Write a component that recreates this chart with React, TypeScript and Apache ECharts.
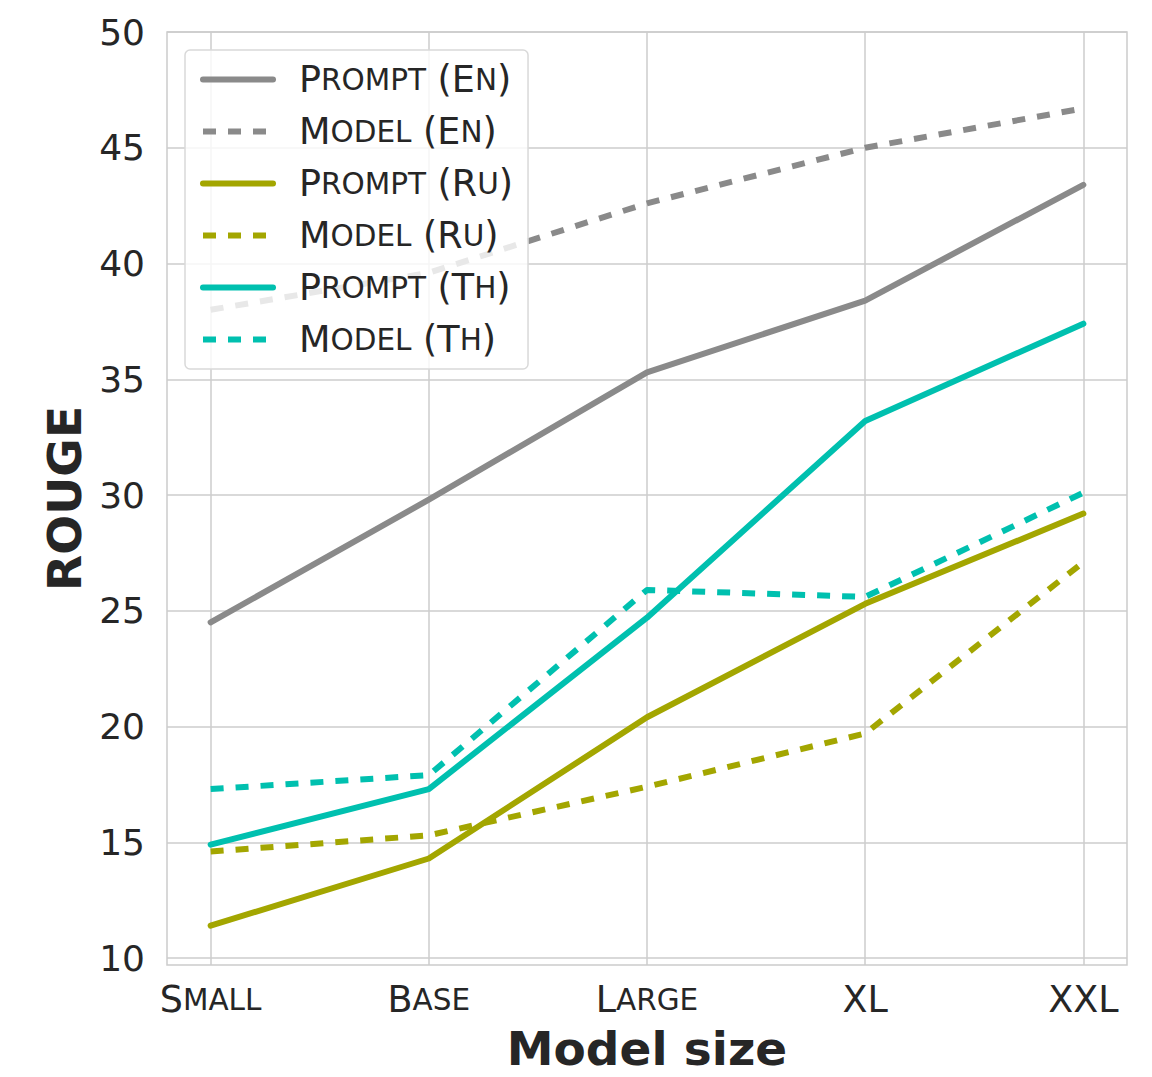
import React, { useEffect, useRef } from "react";
import * as echarts from "echarts";

const categories = ["Small", "Base", "Large", "XL", "XXL"];
const categoryLabels = ["{a|S}{b|MALL}", "{a|B}{b|ASE}", "{a|L}{b|ARGE}", "{a|XL}", "{a|XXL}"];
const yTicks = [10, 15, 20, 25, 30, 35, 40, 45, 50];

const promptEn = [24.5, 29.8, 35.3, 38.4, 43.4];
const modelEn = [38.0, 39.6, 42.6, 45.0, 46.7];
const promptRu = [11.4, 14.3, 20.4, 25.3, 29.2];
const modelRu = [14.6, 15.3, 17.4, 19.7, 27.1];
const promptTh = [14.9, 17.3, 24.7, 33.2, 37.4];
const modelTh = [17.3, 17.9, 25.9, 25.6, 30.1];

const seriesNames = ["Prompt (En)", "Model (En)", "Prompt (Ru)", "Model (Ru)", "Prompt (Th)", "Model (Th)"];
const legendRich: Record<string, string> = {
  "Prompt (En)": "{a|P}{b|ROMPT}{a| (E}{b|N}{a|)}",
  "Model (En)": "{a|M}{b|ODEL}{a| (E}{b|N}{a|)}",
  "Prompt (Ru)": "{a|P}{b|ROMPT}{a| (R}{b|U}{a|)}",
  "Model (Ru)": "{a|M}{b|ODEL}{a| (R}{b|U}{a|)}",
  "Prompt (Th)": "{a|P}{b|ROMPT}{a| (T}{b|H}{a|)}",
  "Model (Th)": "{a|M}{b|ODEL}{a| (T}{b|H}{a|)}",
};
const seriesValues = [promptEn, modelEn, promptRu, modelRu, promptTh, modelTh];
const seriesColors = ["#8a8a8a", "#8a8a8a", "#a3a600", "#a3a600", "#00c0af", "#00c0af"];
const seriesDashed = [false, true, false, true, false, true];

const FONT = "DejaVu Sans";
const TEXT = "#262626";
const GRID = "#cccccc";
const LW = 6;

export default function App() {
  const ref = useRef<HTMLDivElement>(null);
  useEffect(() => {
    if (!ref.current) return;
    const chart = echarts.init(ref.current, undefined, { renderer: "svg" });
    const tickIdx = categories.map((_, i) => i);
    chart.setOption({
      animation: false,
      backgroundColor: "#ffffff",
      textStyle: { fontFamily: FONT },
      grid: {
        left: 167,
        right: 25,
        top: 32,
        bottom: 111,
        show: true,
        borderColor: GRID,
        borderWidth: 1.5,
        backgroundColor: "transparent",
      },
      legend: {
        left: 185,
        top: 50,
        orient: "vertical",
        padding: [11, 15, 11, 15],
        itemWidth: 70,
        itemHeight: 20,
        itemGap: 15,
        backgroundColor: "rgba(255,255,255,0.8)",
        borderColor: "#d9d9d9",
        borderWidth: 1.5,
        borderRadius: 5,
        data: seriesNames,
        lineStyle: { width: LW },
        itemStyle: { opacity: 0 },
        formatter: (name: string) => legendRich[name],
        textStyle: {
          color: TEXT,
          fontFamily: FONT,
          padding: [0, 0, 0, 21],
          rich: {
            a: { fontSize: 36.5, fontFamily: FONT, color: TEXT, lineHeight: 36 },
            b: { fontSize: 29.5, fontFamily: FONT, color: TEXT, lineHeight: 36 },
          },
        },
      },
      xAxis: {
        type: "value",
        min: -0.2,
        max: 4.2,
        name: "Model size",
        nameLocation: "middle",
        nameGap: 60,
        nameTextStyle: { fontSize: 47, fontWeight: "bold", color: TEXT, fontFamily: FONT },
        axisLine: { show: false },
        axisTick: { show: false, customValues: tickIdx },
        splitLine: { show: true, lineStyle: { color: GRID, width: 1.5 } },
        axisLabel: {
          customValues: tickIdx,
          margin: 16,
          color: TEXT,
          formatter: (v: number) => {
            const i = Math.round(v);
            return Math.abs(v - i) < 1e-6 && categoryLabels[i] ? categoryLabels[i] : "";
          },
          rich: {
            a: { fontSize: 36.5, fontFamily: FONT, color: TEXT },
            b: { fontSize: 29.5, fontFamily: FONT, color: TEXT },
          },
        },
      },
      yAxis: {
        type: "value",
        min: 9.7,
        max: 50,
        name: "ROUGE",
        nameLocation: "middle",
        nameGap: 77,
        nameTextStyle: { fontSize: 47, fontWeight: "bold", color: TEXT, fontFamily: FONT },
        axisLine: { show: false },
        axisTick: { show: false, customValues: yTicks },
        splitLine: { show: true, lineStyle: { color: GRID, width: 1.5 } },
        axisLabel: {
          customValues: yTicks,
          margin: 22,
          fontSize: 36,
          color: TEXT,
          fontFamily: FONT,
        },
      },
      series: seriesNames.map((name, k) => ({
        name,
        type: "line",
        symbol: "none",
        data: seriesValues[k].map((v, i) => [i, v]),
        z: 2,
        lineStyle: {
          color: seriesColors[k],
          width: LW,
          type: seriesDashed[k] ? [13, 12] : "solid",
          cap: seriesDashed[k] ? "butt" : "round",
          join: "round",
        },
        itemStyle: { color: seriesColors[k] },
      })),
    });
    return () => chart.dispose();
  }, []);
  return <div ref={ref} style={{ width: 1152, height: 1077, margin: -8 }} />;
}
